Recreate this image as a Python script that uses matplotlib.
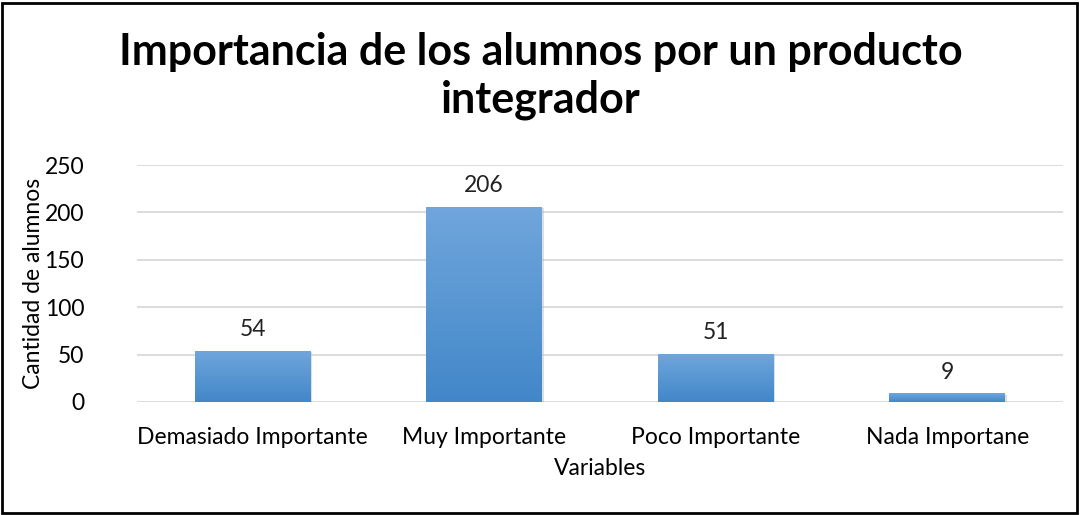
import numpy as np
import matplotlib.pyplot as plt
from matplotlib.patches import Rectangle
from matplotlib.colors import LinearSegmentedColormap

categorias = ['Demasiado Importante', 'Muy Importante', 'Poco Importante', 'Nada Importane']
alumnos = [54, 206, 51, 9]
yticks = [0, 50, 100, 150, 200, 250]

plt.rcParams['font.family'] = ['Lato', 'DejaVu Sans']
fs = 16.5

fig = plt.figure(figsize=(10.82, 5.15), dpi=100)
ax = fig.add_axes([137 / 1082, 1 - 402 / 515, (1063 - 137) / 1082, (402 - 165) / 515])

x = np.arange(len(categorias))
bars = ax.bar(x, alumnos, width=0.5, color='#5b9bd5', zorder=3)

# vertical gradient inside each bar
grad = np.linspace(0, 1, 256).reshape(-1, 1)
cmap = LinearSegmentedColormap.from_list('g', ['#4287c9', '#70a6dc'])
for b in bars:
    x0, w, h = b.get_x(), b.get_width(), b.get_height()
    im = ax.imshow(grad, cmap=cmap, origin='lower', aspect='auto',
                   extent=[x0, x0 + w, 0, h], zorder=4)
    im.set_clip_path(b)
    ax.add_patch(Rectangle((x0 + 0.008, -1.5), w, h, color='#bfbfbf', alpha=0.5, zorder=2, lw=0))
    ax.text(x0 + w / 2, h + 11, str(int(h)), ha='center', va='bottom', fontsize=fs, color='#222222')

ax.set_xlim(-0.5, 3.5)
ax.set_ylim(0, 250)
ax.set_yticks(yticks)
ax.set_xticks(x)
ax.set_xticklabels(categorias, fontsize=fs)
ax.tick_params(axis='y', labelsize=fs, length=0, pad=38)
ax.tick_params(axis='x', length=0, pad=18)
ax.grid(axis='y', color='#d9d9d9', lw=1.3, zorder=0)
for s in ax.spines.values():
    s.set_visible(False)

ax.set_ylabel('Cantidad de alumnos', fontsize=fs)
ax.yaxis.set_label_coords(-0.1, 0.5)
ax.set_xlabel('Variables', fontsize=fs, labelpad=7)

fig.text(0.5, 1 - 76 / 515, 'Importancia de los alumnos por un producto\nintegrador',
         ha='center', va='center', fontsize=31, fontweight='bold', linespacing=1.25)

fig.patches.append(Rectangle((2 / 1082, 2 / 515), 1075 / 1082, 510 / 515, transform=fig.transFigure,
                             fill=False, edgecolor='black', lw=2))

fig.savefig('out.png', dpi=100)
